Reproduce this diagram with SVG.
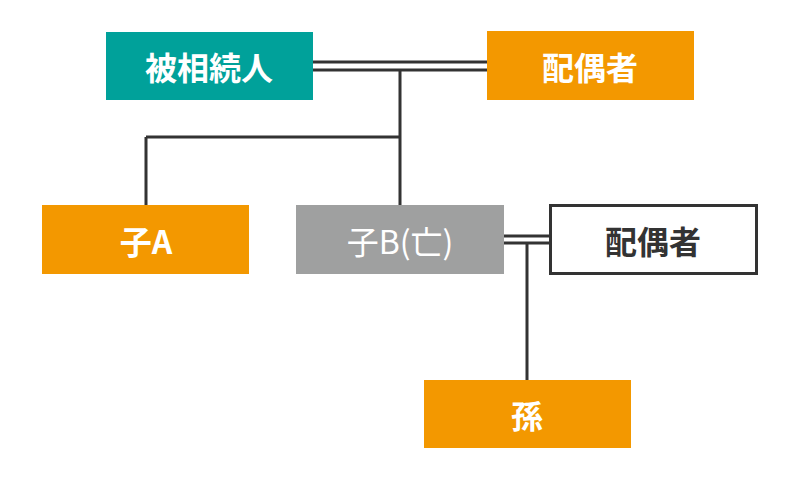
<svg xmlns="http://www.w3.org/2000/svg" width="800" height="486" viewBox="0 0 800 486">
<style>
.t{font-family:"Noto Sans CJK JP","Noto Sans",sans-serif;font-size:32px;font-weight:bold;fill:#fff;text-anchor:middle;dominant-baseline:central}
.d{fill:#333}
.l{stroke:#333;stroke-width:3;fill:none}
</style>
<rect width="800" height="486" fill="#fff"/>
<g id="connectors">
<path class="l" d="M313 62H487M313 70H487M400 70V205M146 137H400M146 137V205M504 236H550M504 243H550M527 243V380"/>
</g>
<g id="n1"><rect x="106" y="32" width="207" height="68" fill="#00A19A"/><text class="t" x="209" y="66">被相続人</text></g>
<g id="n2"><rect x="487" y="31" width="207" height="69" fill="#F39800"/><text class="t" x="590" y="66">配偶者</text></g>
<g id="n3"><rect x="42" y="205" width="207" height="69" fill="#F39800"/><text class="t" x="146" y="240">子A</text></g>
<g id="n4"><rect x="296" y="205" width="208" height="69" fill="#9FA0A0"/><text class="t" x="400" y="240" style="font-weight:normal">子B(亡)</text></g>
<g id="n5"><rect x="550.5" y="205.5" width="206" height="68" fill="#fff" stroke="#333" stroke-width="3"/><text class="t" x="653" y="240" style="fill:#333">配偶者</text></g>
<g id="n6"><rect x="424" y="380" width="207" height="68" fill="#F39800"/><text class="t" x="527" y="414">孫</text></g>
</svg>
